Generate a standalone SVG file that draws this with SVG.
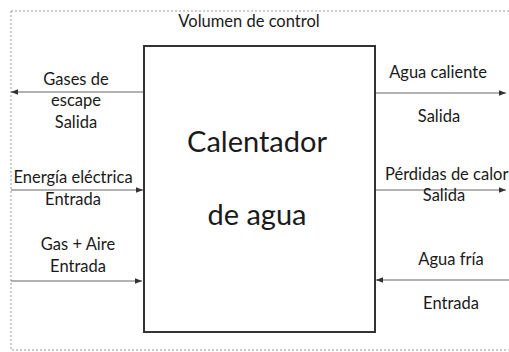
<svg xmlns="http://www.w3.org/2000/svg" width="509" height="352" viewBox="0 0 509 352">
<defs>
<marker id="ah" viewBox="0 0 10 10" refX="10" refY="5" markerWidth="7" markerHeight="7" orient="auto" markerUnits="userSpaceOnUse">
<path d="M0,1 L10,5 L0,9 Z" fill="#333"/>
</marker>
<style>
text{font-family:Lato,"Open Sans",sans-serif;fill:#1a1a1a;text-anchor:middle}
.lbl{font-size:16.5px}
.big{font-size:29px}
.conn{stroke:#666;stroke-width:1.2;fill:none;marker-end:url(#ah)}
</style>
</defs>
<rect width="509" height="352" fill="#fff"/>
<g id="control-volume">
<rect x="11" y="11" width="510" height="339" fill="none" stroke="#999" stroke-width="1" stroke-dasharray="2,2"/>
<text class="lbl" x="249" y="27">Volumen de control</text>
</g>
<g id="heater">
<rect x="144" y="46" width="231" height="286" fill="#fff" stroke="#333" stroke-width="2"/>
<text class="big" x="257" y="152">Calentador</text>
<text class="big" x="257" y="225">de agua</text>
</g>
<g id="connectors">
<line class="conn" x1="143" y1="92" x2="11" y2="92"/>
<line class="conn" x1="11" y1="190" x2="143" y2="190"/>
<line class="conn" x1="11" y1="281" x2="142" y2="281"/>
<line class="conn" x1="376" y1="93" x2="506" y2="93"/>
<line class="conn" x1="376" y1="190" x2="506" y2="190"/>
<line class="conn" x1="509" y1="280" x2="376" y2="280"/>
</g>
<g id="gases">
<text class="lbl" x="76" y="85">Gases de</text>
<text class="lbl" x="76" y="106">escape</text>
<text class="lbl" x="76" y="128">Salida</text>
</g>
<g id="energia">
<text class="lbl" x="73" y="183">Energía eléctrica</text>
<text class="lbl" x="73" y="205">Entrada</text>
</g>
<g id="gas-aire">
<text class="lbl" x="78" y="250">Gas + Aire</text>
<text class="lbl" x="78" y="272">Entrada</text>
</g>
<g id="agua-caliente">
<text class="lbl" x="438" y="78">Agua caliente</text>
<text class="lbl" x="439" y="122">Salida</text>
</g>
<g id="perdidas">
<text class="lbl" x="385" y="180" style="text-anchor:start">Pérdidas de calor</text>
<text class="lbl" x="444" y="201">Salida</text>
</g>
<g id="agua-fria">
<text class="lbl" x="451" y="265">Agua fría</text>
<text class="lbl" x="451" y="309">Entrada</text>
</g>
</svg>
